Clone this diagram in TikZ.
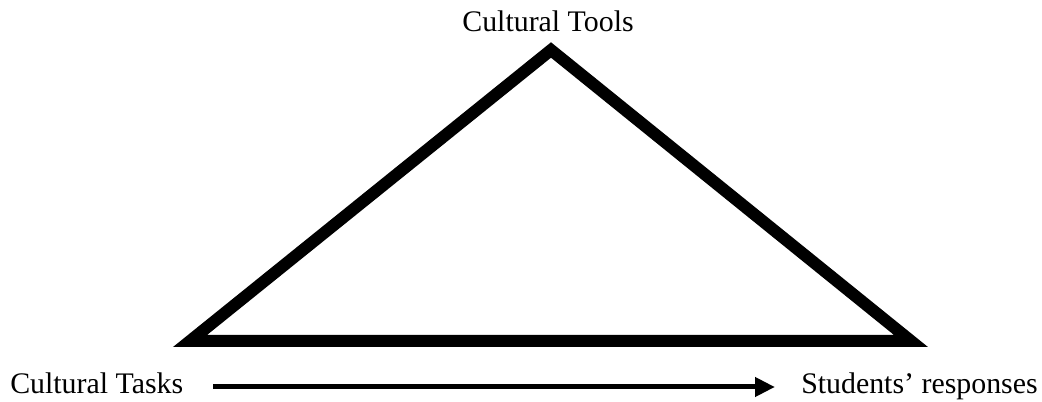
\documentclass[tikz,border=0pt]{standalone}
\usepackage{fontspec}
\setmainfont{Liberation Serif}
\usetikzlibrary{arrows.meta}
\begin{document}
\begin{tikzpicture}[x=0.75pt,y=-0.75pt,
  lbl/.style={inner sep=0pt,font=\fontsize{22.4}{26}\selectfont},
  tri/.style={line width=9pt,line join=miter},
  flow/.style={line width=3.75pt,-{Triangle[length=15pt,width=14pt]}}]
\useasboundingbox (0,0) rectangle (1042,402);
\coordinate (top) at (551,50);
\coordinate (bl) at (190,341);
\coordinate (br) at (911,341);
\draw[tri] (top) -- (bl) -- (br) -- cycle;
\node[lbl,anchor=base] (tools) at (548,32) {Cultural Tools};
\node[lbl,anchor=base west] (tasks) at (10,393) {Cultural Tasks};
\node[lbl,anchor=base west] (resp) at (801,393) {Students’ responses};
\coordinate (a1) at (213,387);
\coordinate (a2) at (775,387);
\draw[flow] (a1) -- (a2);
\end{tikzpicture}
\end{document}
